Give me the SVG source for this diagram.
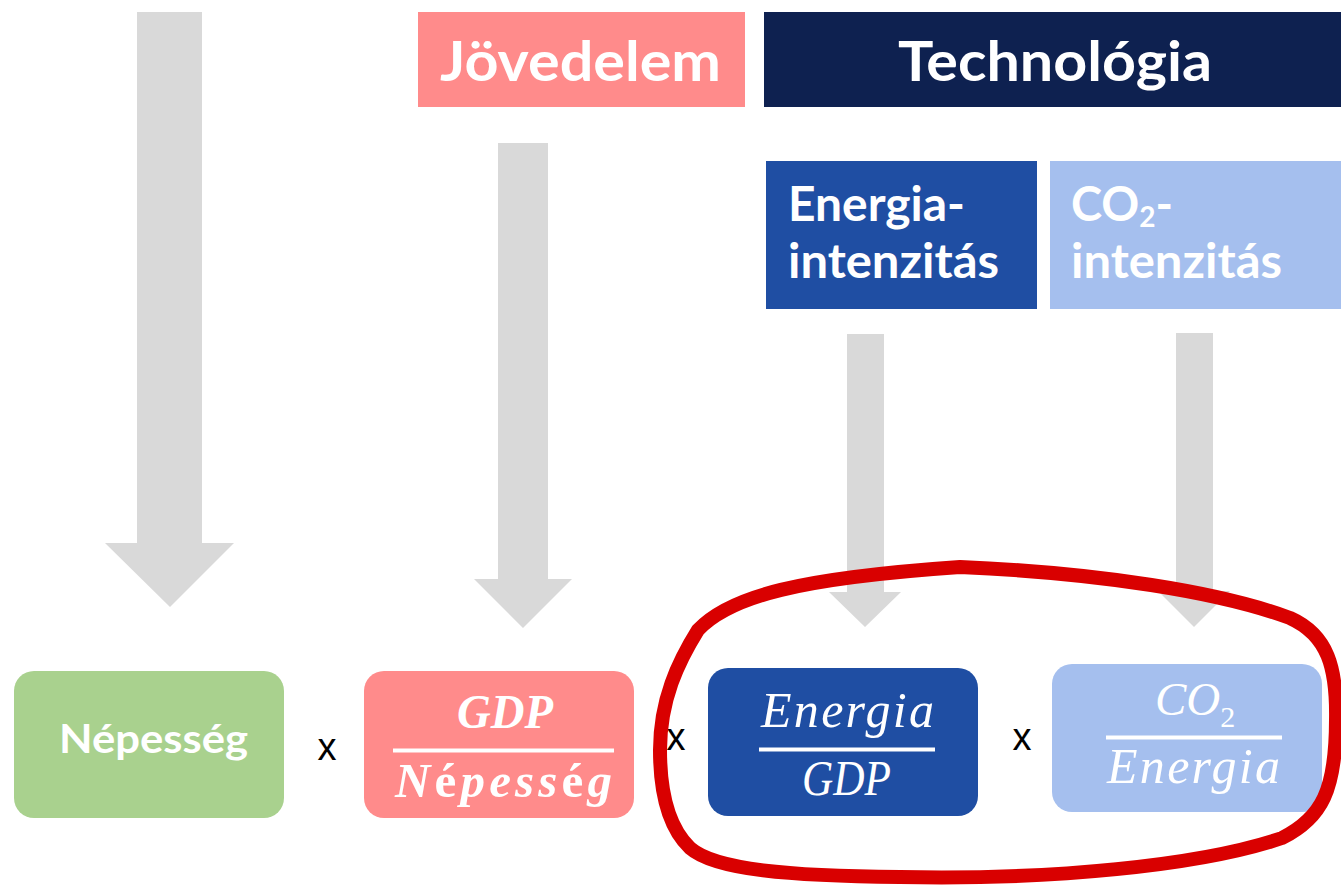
<svg xmlns="http://www.w3.org/2000/svg" width="1341" height="886" viewBox="0 0 1341 886">
<style>
.hdr{font-family:Lato,"Open Sans","Liberation Sans",sans-serif;font-weight:bold;fill:#fff}
.math{font-family:"Liberation Serif","DejaVu Serif",serif;font-style:italic;fill:#fff}
.mb{font-weight:bold}
.up{font-style:normal}
.op{font-family:"Liberation Sans",Arial,sans-serif;font-size:38px;fill:#000;text-anchor:middle}
.arrow{fill:#D9D9D9}
.bar{stroke:#fff;stroke-width:4}
.mid{text-anchor:middle}
</style>
<rect width="1341" height="886" fill="#fff"/>
<g id="connectors">
<polygon class="arrow" points="137,12 202,12 202,543 234,543 170,607 105,543 137,543"/>
<polygon class="arrow" points="498,143 548,143 548,579 572,579 523,628 474,579 498,579"/>
<polygon class="arrow" points="847,334 884,334 884,592 901,592 865,627 829,592 847,592"/>
<polygon class="arrow" points="1176,333 1213,333 1213,591 1230,591 1194,627 1158,591 1176,591"/>
</g>
<g id="jovedelem">
<rect x="418" y="12" width="327" height="95" fill="#FF8B8B"/>
<text class="hdr mid" x="580.5" y="81" font-size="56" textLength="281" lengthAdjust="spacingAndGlyphs">Jövedelem</text>
</g>
<g id="technologia">
<rect x="764" y="12" width="577" height="95" fill="#0E2150"/>
<text class="hdr mid" x="1055" y="81" font-size="56" textLength="314" lengthAdjust="spacingAndGlyphs">Technológia</text>
</g>
<g id="energia-intenzitas">
<rect x="766" y="161" width="271" height="148" fill="#1F4EA3"/>
<text class="hdr" x="788" y="221" font-size="47" textLength="177" lengthAdjust="spacingAndGlyphs">Energia-</text>
<text class="hdr" x="788" y="278" font-size="47" textLength="211" lengthAdjust="spacingAndGlyphs">intenzitás</text>
</g>
<g id="co2-intenzitas">
<rect x="1050" y="161" width="291" height="148" fill="#A5BFEE"/>
<text class="hdr" x="1071" y="221" font-size="47">CO<tspan font-size="28" dy="6">2</tspan><tspan dy="-6">-</tspan></text>
<text class="hdr" x="1071" y="278" font-size="47" textLength="211" lengthAdjust="spacingAndGlyphs">intenzitás</text>
</g>
<g id="nepesseg">
<rect x="14" y="671" width="270" height="147" rx="20" fill="#A9D18E"/>
<text class="hdr mid" x="153.5" y="753" font-size="40" textLength="189" lengthAdjust="spacingAndGlyphs">Népesség</text>
</g>
<g id="gdp-per-nepesseg">
<rect x="364" y="671" width="270" height="147" rx="20" fill="#FF8B8B"/>
<text class="math mb mid" x="505" y="728" font-size="49" textLength="96" lengthAdjust="spacingAndGlyphs">GDP</text>
<line class="bar" x1="393" y1="750.5" x2="614" y2="750.5"/>
<text class="math mb mid" x="503.5" y="797" font-size="49" textLength="217" lengthAdjust="spacing">N<tspan class="up">é</tspan>pess<tspan class="up">é</tspan>g</text>
</g>
<g id="energia-per-gdp">
<rect x="708" y="668" width="270" height="148" rx="20" fill="#1F4EA3"/>
<text class="math mid" x="847.5" y="727" font-size="50" textLength="173" lengthAdjust="spacing">Energia</text>
<line class="bar" x1="759" y1="749.5" x2="935" y2="749.5"/>
<text class="math mid" x="846.5" y="795" font-size="50" textLength="89" lengthAdjust="spacingAndGlyphs">GDP</text>
</g>
<g id="co2-per-energia">
<rect x="1052" y="664" width="270" height="148" rx="20" fill="#A5BFEE"/>
<text class="math" x="1155" y="715" font-size="47">CO<tspan class="up" font-size="30" dy="12">2</tspan></text>
<line class="bar" x1="1106" y1="737.5" x2="1282" y2="737.5"/>
<text class="math mid" x="1193.5" y="783" font-size="50" textLength="173" lengthAdjust="spacing">Energia</text>
</g>
<g id="operators">
<text class="op" x="327" y="760">x</text>
<text class="op" x="676" y="750">x</text>
<text class="op" x="1022" y="750">x</text>
</g>
<g id="highlight">
<path d="M 960 567 C 1100 573, 1220 592, 1290 618 C 1328 635, 1337 668, 1336 720 C 1336 790, 1322 818, 1282 838 C 1200 866, 1050 880, 900 877 C 790 876, 715 870, 690 848 C 667 826, 660 790, 660 750 C 660 700, 678 662, 698 630 C 730 596, 800 578, 960 567 Z" fill="none" stroke="#D90000" stroke-width="14"/>
</g>
</svg>
